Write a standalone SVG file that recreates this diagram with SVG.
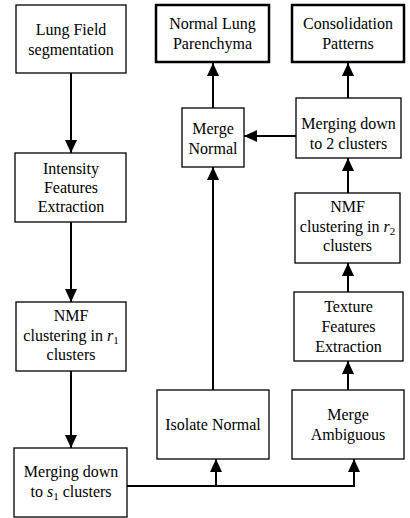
<svg xmlns="http://www.w3.org/2000/svg" width="410" height="518" viewBox="0 0 410 518">
<defs>
<style>
.box{fill:#fff;stroke:#000;stroke-width:1.3}
.tbox{fill:#fff;stroke:#000;stroke-width:2.5}
.t{font-size:16px;fill:#000;text-anchor:middle}
.c{fill:none;stroke:#000;stroke-width:2}
.sub{font-size:11px}
</style>
<marker id="ah" markerUnits="userSpaceOnUse" markerWidth="13" markerHeight="12" refX="13" refY="6" orient="auto">
<path d="M0,0 L13,6 L0,12 z" fill="#000"/>
</marker>
</defs>
<rect width="410" height="518" fill="#fff"/>
<g id="connectors">
<line class="c" x1="71" y1="73" x2="71" y2="153" marker-end="url(#ah)"/>
<line class="c" x1="71" y1="222" x2="71" y2="302" marker-end="url(#ah)"/>
<line class="c" x1="71" y1="371" x2="71" y2="448" marker-end="url(#ah)"/>
<polyline class="c" points="127,486 354,486 354,459" marker-end="url(#ah)"/>
<line class="c" x1="216" y1="486" x2="216" y2="459" marker-end="url(#ah)"/>
<line class="c" x1="213" y1="390" x2="213" y2="167" marker-end="url(#ah)"/>
<line class="c" x1="213" y1="108" x2="213" y2="63" marker-end="url(#ah)"/>
<line class="c" x1="296" y1="136" x2="244" y2="136" marker-end="url(#ah)"/>
<line class="c" x1="348" y1="98" x2="348" y2="63" marker-end="url(#ah)"/>
<line class="c" x1="348" y1="193" x2="348" y2="158" marker-end="url(#ah)"/>
<line class="c" x1="348" y1="292" x2="348" y2="263" marker-end="url(#ah)"/>
<line class="c" x1="348" y1="390" x2="348" y2="361" marker-end="url(#ah)"/>
</g>
<g font-family="'Liberation Serif', 'Times New Roman', 'DejaVu Serif', serif">
<g id="lung-field">
<rect class="box" x="16" y="5" width="110" height="68"/>
<text class="t" x="71" y="35">Lung Field</text>
<text class="t" x="71" y="54.5">segmentation</text>
</g>
<g id="intensity">
<rect class="box" x="15" y="153" width="111" height="69"/>
<text class="t" x="71" y="174">Intensity</text>
<text class="t" x="71" y="193">Features</text>
<text class="t" x="71" y="212">Extraction</text>
</g>
<g id="nmf1">
<rect class="box" x="16" y="302" width="110" height="69"/>
<text class="t" x="71" y="321">NMF</text>
<text class="t" x="71" y="340.5">clustering in <tspan font-style="italic">r</tspan><tspan class="sub" dy="3">1</tspan></text>
<text class="t" x="71" y="360">clusters</text>
</g>
<g id="merge-s1">
<rect class="box" x="14" y="448" width="113" height="69"/>
<text class="t" x="71" y="477">Merging down</text>
<text class="t" x="71" y="497">to <tspan font-style="italic">s</tspan><tspan class="sub" dy="3">1</tspan><tspan dy="-3"> clusters</tspan></text>
</g>
<g id="isolate-normal">
<rect class="box" x="157" y="390" width="112" height="69"/>
<text class="t" x="213" y="430">Isolate Normal</text>
</g>
<g id="merge-normal">
<rect class="box" x="182" y="108" width="62" height="59"/>
<text class="t" x="213" y="134">Merge</text>
<text class="t" x="213" y="154">Normal</text>
</g>
<g id="normal-lung">
<rect class="tbox" x="156" y="5" width="113" height="57"/>
<text class="t" x="212.5" y="29">Normal Lung</text>
<text class="t" x="212.5" y="48.5">Parenchyma</text>
</g>
<g id="consolidation">
<rect class="tbox" x="292" y="5" width="112" height="57"/>
<text class="t" x="348" y="29">Consolidation</text>
<text class="t" x="348" y="48.5">Patterns</text>
</g>
<g id="merge-2">
<rect class="box" x="296" y="98" width="105" height="60"/>
<text class="t" x="348.5" y="129">Merging down</text>
<text class="t" x="348.5" y="149">to 2 clusters</text>
</g>
<g id="nmf2">
<rect class="box" x="295" y="193" width="105" height="70"/>
<text class="t" x="347.5" y="212">NMF</text>
<text class="t" x="347.5" y="231.5">clustering in <tspan font-style="italic">r</tspan><tspan class="sub" dy="3">2</tspan></text>
<text class="t" x="347.5" y="251">clusters</text>
</g>
<g id="texture">
<rect class="box" x="294" y="292" width="109" height="69"/>
<text class="t" x="348.5" y="312">Texture</text>
<text class="t" x="348.5" y="332">Features</text>
<text class="t" x="348.5" y="352">Extraction</text>
</g>
<g id="merge-ambiguous">
<rect class="box" x="292" y="390" width="112" height="69"/>
<text class="t" x="348" y="420">Merge</text>
<text class="t" x="348" y="440">Ambiguous</text>
</g>
</g>
</svg>
